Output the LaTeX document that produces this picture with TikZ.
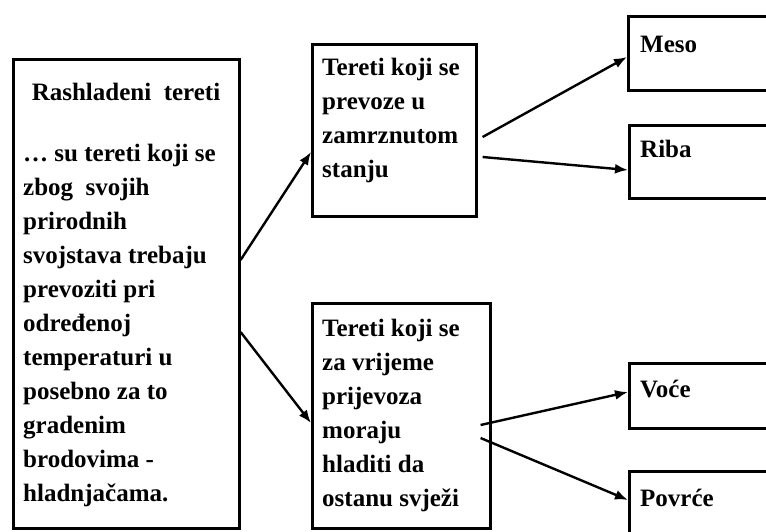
\documentclass[tikz,border=0pt]{standalone}
\usepackage{fontspec}
\setmainfont{Liberation Serif}
\usetikzlibrary{arrows.meta}
\begin{document}
\begin{tikzpicture}[x=1pt,y=-1pt,
 box/.style={draw, line width=2.6pt, inner sep=0pt, rectangle, anchor=north west},
 txt/.style={anchor=base west, inner sep=0pt, font=\fontsize{25}{34}\selectfont\bfseries},
 arr/.style={line width=2.4pt, -{Latex[length=13pt,width=10pt]}}]
\useasboundingbox (0,0) rectangle (766,531);
\clip (0,0) rectangle (766,531);
% boxes
\node[box, minimum width=226pt, minimum height=469pt] (left) at (12,58) {};
\node[box, minimum width=164pt, minimum height=172pt] (mtop) at (311,43) {};
\node[box, minimum width=178pt, minimum height=225pt] (mbot) at (311,302) {};
\node[box, minimum width=200pt, minimum height=74pt] (meso) at (627,15) {};
\node[box, minimum width=200pt, minimum height=73pt] (riba) at (628,124) {};
\node[box, minimum width=200pt, minimum height=65pt] (voce) at (628,362) {};
\node[box, minimum width=200pt, minimum height=100pt] (povrce) at (628,470) {};
% texts
\node[txt, anchor=base] (ltitle) at (126,100) {Rashladeni\ \ tereti};
\node[txt] (lbody) at (23,161) {\parbox[t]{214pt}{\raggedright
… su tereti koji se\\
zbog\ \ svojih\\
prirodnih\\
svojstava trebaju\\
prevoziti pri\\
određenoj\\
temperaturi u\\
posebno za to\\
gradenim\\
brodovima -\\
hladnjačama.}};
\node[txt] (mtoptext) at (322,75) {\parbox[t]{150pt}{\raggedright
Tereti koji se\\
prevoze u\\
zamrznutom\\
stanju}};
\node[txt] (mbottext) at (322,336) {\parbox[t]{165pt}{\raggedright
Tereti koji se\\
za vrijeme\\
prijevoza\\
moraju\\
hladiti da\\
ostanu svježi}};
\node[txt] (mesotext) at (640,52) {Meso};
\node[txt] (ribatext) at (640,157) {Riba};
\node[txt] (vocetext) at (640,397) {Voće};
\node[txt] (povrcetext) at (640,506) {Povrće};
% arrows
\draw[arr] ([yshift=-202pt]left.north east) -- ([yshift=-109pt]mtop.north west);
\draw[arr] ([yshift=-274pt]left.north east) -- ([yshift=-121pt]mbot.north west);
\draw[arr] ([xshift=5pt,yshift=-94pt]mtop.north east) -- ([yshift=-42pt]meso.north west);
\draw[arr] ([xshift=5pt,yshift=-114pt]mtop.north east) -- ([yshift=-46pt]riba.north west);
\draw[arr] ([xshift=-11pt,yshift=-123pt]mbot.north east) -- ([yshift=-30pt]voce.north west);
\draw[arr] ([xshift=-11pt,yshift=-136pt]mbot.north east) -- ([yshift=-30pt]povrce.north west);
\end{tikzpicture}
\end{document}
